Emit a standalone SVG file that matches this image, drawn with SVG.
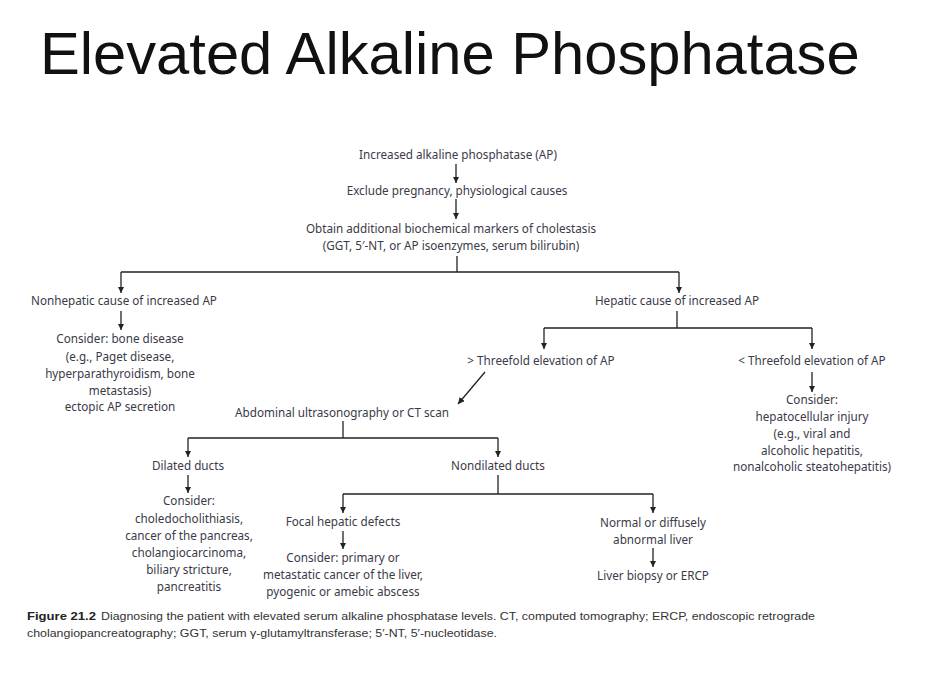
<svg xmlns="http://www.w3.org/2000/svg" width="938" height="686" viewBox="0 0 938 686">
<style>
.t{font-family:"Noto Sans","Liberation Sans",sans-serif;font-size:11.7px;fill:#3a3a48;text-anchor:middle}
.title{font-family:"Liberation Sans",Arial,sans-serif;font-size:59.7px;fill:#111}
.cap{font-family:"Liberation Sans",Arial,sans-serif;font-size:11px;fill:#333}
.capb{font-family:"Liberation Sans",Arial,sans-serif;font-size:11.5px;font-weight:bold;fill:#222}
.c{stroke:#222;stroke-width:1.3;fill:none}
.a{stroke:#222;stroke-width:1.3;fill:none;marker-end:url(#ah)}
</style>
<defs>
<marker id="ah" viewBox="0 0 10 10" refX="10" refY="5" markerWidth="5" markerHeight="5" orient="auto" markerUnits="strokeWidth">
<path d="M0,0 L10,5 L0,10 z" fill="#222"/>
</marker>
</defs>
<rect width="938" height="686" fill="#fff"/>
<text class="title" x="40" y="74">Elevated Alkaline Phosphatase</text>

<g id="connectors">
<line class="a" x1="456" y1="164" x2="456" y2="183"/>
<line class="a" x1="456" y1="199" x2="456" y2="219"/>
<line class="c" x1="457" y1="256" x2="457" y2="272"/>
<line class="c" x1="121" y1="272" x2="679" y2="272"/>
<line class="a" x1="121" y1="272" x2="121" y2="293"/>
<line class="a" x1="679" y1="272" x2="679" y2="293"/>
<line class="a" x1="121" y1="311" x2="121" y2="330"/>
<line class="c" x1="677" y1="311" x2="677" y2="328"/>
<line class="c" x1="544" y1="328" x2="812" y2="328"/>
<line class="a" x1="544" y1="328" x2="544" y2="349"/>
<line class="a" x1="812" y1="328" x2="812" y2="349"/>
<line class="a" x1="812" y1="372" x2="812" y2="392"/>
<line class="a" x1="485" y1="372" x2="458" y2="404"/>
<line class="c" x1="343" y1="421" x2="343" y2="438"/>
<line class="c" x1="188" y1="438" x2="498" y2="438"/>
<line class="a" x1="188" y1="438" x2="188" y2="457"/>
<line class="a" x1="498" y1="438" x2="498" y2="457"/>
<line class="a" x1="188" y1="475" x2="188" y2="493"/>
<line class="c" x1="498" y1="475" x2="498" y2="494"/>
<line class="c" x1="343" y1="494" x2="653" y2="494"/>
<line class="a" x1="343" y1="494" x2="343" y2="513"/>
<line class="a" x1="653" y1="494" x2="653" y2="513"/>
<line class="a" x1="343" y1="531" x2="343" y2="549"/>
<line class="a" x1="653" y1="548" x2="653" y2="567"/>
</g>

<g id="n-increased"><text class="t" x="458" y="159">Increased alkaline phosphatase (AP)</text></g>
<g id="n-exclude"><text class="t" x="457" y="195">Exclude pregnancy, physiological causes</text></g>
<g id="n-obtain"><text class="t" x="451" y="233">Obtain additional biochemical markers of cholestasis</text><text class="t" x="451" y="250">(GGT, 5′-NT, or AP isoenzymes, serum bilirubin)</text></g>
<g id="n-nonhepatic"><text class="t" x="124" y="305">Nonhepatic cause of increased AP</text></g>
<g id="n-bone"><text class="t" x="120" y="343">Consider: bone disease</text><text class="t" x="120" y="361">(e.g., Paget disease,</text><text class="t" x="120" y="378">hyperparathyroidism, bone</text><text class="t" x="120" y="395">metastasis)</text><text class="t" x="120" y="411">ectopic AP secretion</text></g>
<g id="n-hepatic"><text class="t" x="677" y="305">Hepatic cause of increased AP</text></g>
<g id="n-gt3"><text class="t" x="541" y="365">&gt; Threefold elevation of AP</text></g>
<g id="n-lt3"><text class="t" x="812" y="365">&lt; Threefold elevation of AP</text></g>
<g id="n-hepatocell"><text class="t" x="812" y="404">Consider:</text><text class="t" x="812" y="421">hepatocellular injury</text><text class="t" x="812" y="438">(e.g., viral and</text><text class="t" x="812" y="455">alcoholic hepatitis,</text><text class="t" x="812" y="471">nonalcoholic steatohepatitis)</text></g>
<g id="n-abdominal"><text class="t" x="342" y="417">Abdominal ultrasonography or CT scan</text></g>
<g id="n-dilated"><text class="t" x="188" y="470">Dilated ducts</text></g>
<g id="n-nondilated"><text class="t" x="498" y="470">Nondilated ducts</text></g>
<g id="n-dilated-consider"><text class="t" x="189" y="505">Consider:</text><text class="t" x="189" y="523">choledocholithiasis,</text><text class="t" x="189" y="540">cancer of the pancreas,</text><text class="t" x="189" y="557">cholangiocarcinoma,</text><text class="t" x="189" y="574">biliary stricture,</text><text class="t" x="189" y="591">pancreatitis</text></g>
<g id="n-focal"><text class="t" x="343" y="526">Focal hepatic defects</text></g>
<g id="n-focal-consider"><text class="t" x="343" y="562">Consider: primary or</text><text class="t" x="343" y="579">metastatic cancer of the liver,</text><text class="t" x="343" y="596">pyogenic or amebic abscess</text></g>
<g id="n-normal"><text class="t" x="653" y="527">Normal or diffusely</text><text class="t" x="653" y="544">abnormal liver</text></g>
<g id="n-biopsy"><text class="t" x="653" y="580">Liver biopsy or ERCP</text></g>

<g id="caption">
<text class="capb" x="27" y="620" textLength="69" lengthAdjust="spacingAndGlyphs">Figure 21.2</text>
<text class="cap" x="101" y="620" textLength="714" lengthAdjust="spacingAndGlyphs">Diagnosing the patient with elevated serum alkaline phosphatase levels. CT, computed tomography; ERCP, endoscopic retrograde</text>
<text class="cap" x="27" y="637" textLength="470" lengthAdjust="spacingAndGlyphs">cholangiopancreatography; GGT, serum γ-glutamyltransferase; 5′-NT, 5′-nucleotidase.</text>
</g>
</svg>
